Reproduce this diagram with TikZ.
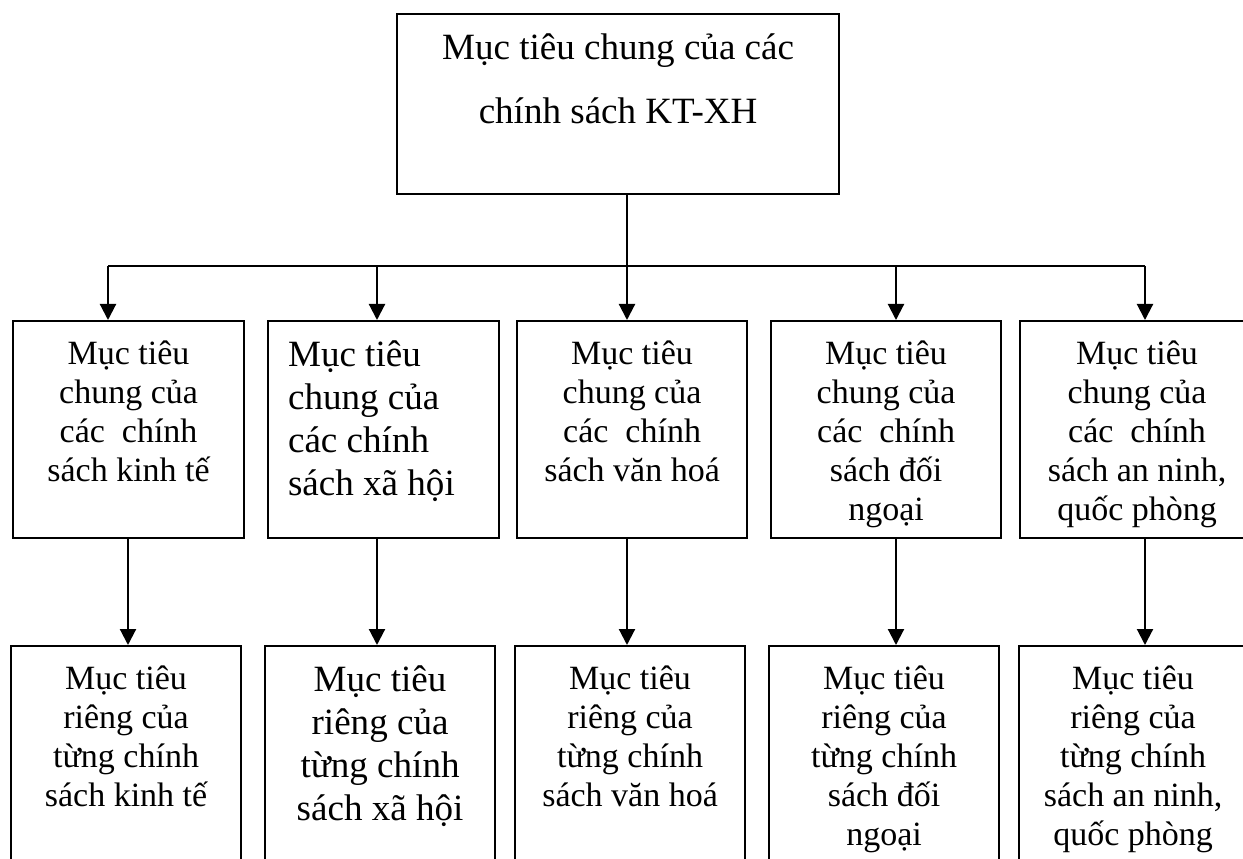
\documentclass[tikz,border=0pt]{standalone}
\usepackage{fontspec}
\setmainfont{Liberation Serif}
\usetikzlibrary{arrows.meta}

\newcommand{\midsize}{\fontsize{25.5}{29.4}\selectfont}
\newcommand{\bigsize}{\fontsize{27.8}{32.4}\selectfont}
% box text: width, height, first baseline, lines
\newcommand{\goaltext}[4]{\parbox[c][#2][t]{#1}{\centering\rule{0pt}{#3}#4}}

\tikzset{
  goalbox/.style={draw, line width=1.6pt, inner sep=0pt, anchor=north west, font=\midsize},
  bus/.style={line width=1.6pt},
  flow/.style={line width=1.6pt, -{Triangle[length=12pt,width=12pt]}},
}

\begin{document}
\begin{tikzpicture}[x=0.75pt,y=0.75pt,yscale=-1,xscale=1]
\useasboundingbox (0,0) rectangle (1243,859);
\clip (0,0) rectangle (1243,859);

% top box
\node[goalbox, font=\fontsize{27.8}{48.3}\selectfont] (chung) at (396,13)
  {\goaltext{331.5pt}{135pt}{33.75pt}{Mục tiêu chung của các\\chính sách KT-XH}};

% level 2
\node[goalbox] (c1) at (12,320)
  {\goaltext{173.25pt}{162.75pt}{32.25pt}{Mục tiêu\\chung của\\các\ \ chính\\sách kinh tế}};
\node[goalbox, font=\bigsize] (c2) at (267,320)
  {\hspace*{15pt}\parbox[c][162.75pt][t]{158.25pt}{\raggedright\rule{0pt}{33.75pt}Mục tiêu\\chung của\\các chính\\sách xã hội}};
\node[goalbox] (c3) at (516,320)
  {\goaltext{172.5pt}{162.75pt}{32.25pt}{Mục tiêu\\chung của\\các\ \ chính\\sách văn hoá}};
\node[goalbox] (c4) at (770,320)
  {\goaltext{172.5pt}{162.75pt}{32.25pt}{Mục tiêu\\chung của\\các\ \ chính\\sách đối\\ngoại}};
\node[goalbox] (c5) at (1019,320)
  {\goaltext{175.5pt}{162.75pt}{32.25pt}{Mục tiêu\\chung của\\các\ \ chính\\sách an ninh,\\quốc phòng}};

% level 3
\node[goalbox] (r1) at (10,645)
  {\goaltext{172.5pt}{180pt}{32.25pt}{Mục tiêu\\riêng của\\từng chính\\sách kinh tế}};
\node[goalbox, font=\bigsize] (r2) at (264,645)
  {\goaltext{172.5pt}{180pt}{33.75pt}{Mục tiêu\\riêng của\\từng chính\\sách xã hội}};
\node[goalbox] (r3) at (514,645)
  {\goaltext{172.5pt}{180pt}{32.25pt}{Mục tiêu\\riêng của\\từng chính\\sách văn hoá}};
\node[goalbox] (r4) at (768,645)
  {\goaltext{172.5pt}{180pt}{32.25pt}{Mục tiêu\\riêng của\\từng chính\\sách đối\\ngoại}};
\node[goalbox] (r5) at (1018,645)
  {\goaltext{171pt}{180pt}{32.25pt}{Mục tiêu\\riêng của\\từng chính\\sách an ninh,\\quốc phòng}};

% connectors
\coordinate (hub) at (627,266);
\coordinate (busL) at (108,266);
\coordinate (busR) at (1145,266);
\draw[bus] (chung.south -| hub) -- (hub);
\draw[bus] (busL) -- (busR);
\foreach \i/\x in {1/108,2/377,3/627,4/896,5/1145}
  \draw[flow] (\x,266) coordinate (j\i) -- (j\i |- c\i.north);
\foreach \i/\x in {1/128,2/377,3/627,4/896,5/1145}{
  \coordinate (k\i) at (\x,0);
  \draw[flow] (k\i |- c\i.south) -- (k\i |- r\i.north);
}

\end{tikzpicture}
\end{document}
